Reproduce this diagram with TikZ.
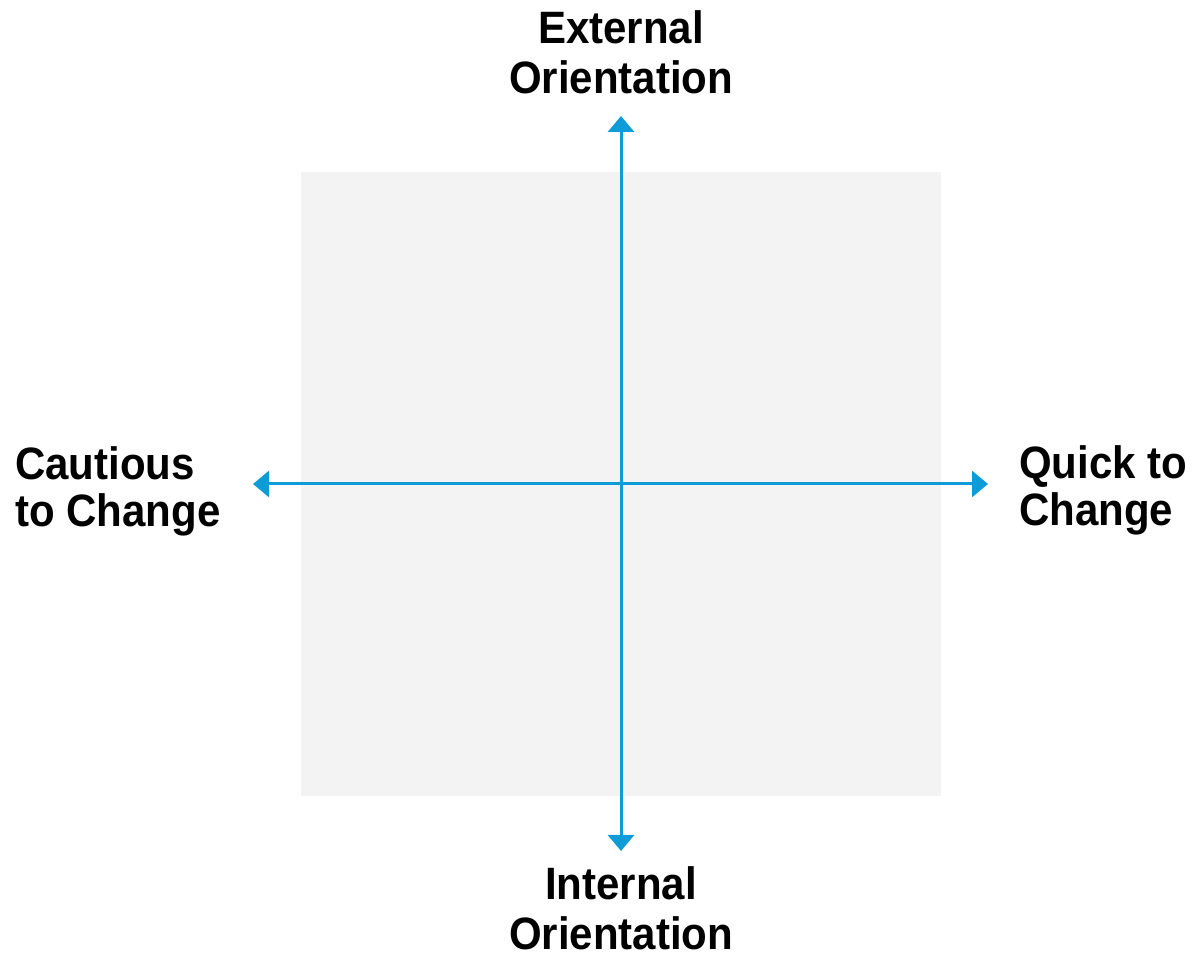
\documentclass[tikz,border=0pt]{standalone}
\usepackage{fontspec}
\setmainfont{Liberation Sans}
\usetikzlibrary{arrows.meta}
\definecolor{axisblue}{HTML}{0E9CD8}
\definecolor{quadgray}{HTML}{F3F3F3}
\begin{document}
\begin{tikzpicture}[x=1pt,y=1pt,
  axis/.style={draw=axisblue,line width=3pt,{Triangle[width=26pt,length=16pt]}-{Triangle[width=26pt,length=16pt]}},
  lbl/.style={inner sep=0pt,font=\bfseries\fontsize{42}{47}\selectfont,yscale=1.08},
  lblside/.style={lbl,align=left,font=\bfseries\fontsize{42}{43.5}\selectfont}]
\useasboundingbox (0,0) rectangle (1196,955);
\fill[quadgray] (301,159) rectangle (941,783);
\coordinate (top) at (621,839);
\coordinate (bottom) at (621,104);
\coordinate (left) at (253,471);
\coordinate (right) at (988,471);
\draw[axis] (bottom) -- (top);
\draw[axis] (left) -- (right);
\node[lbl,align=center,anchor=north] (ext) at (621,945) {External\\Orientation};
\node[lbl,align=center,anchor=north] (int) at (621,89) {Internal\\Orientation};
\node[lblside,anchor=north west] (cau) at (15,509) {Cautious\\to Change};
\node[lblside,anchor=north west] (qui) at (1019,510) {Quick to\\Change};
\end{tikzpicture}
\end{document}
